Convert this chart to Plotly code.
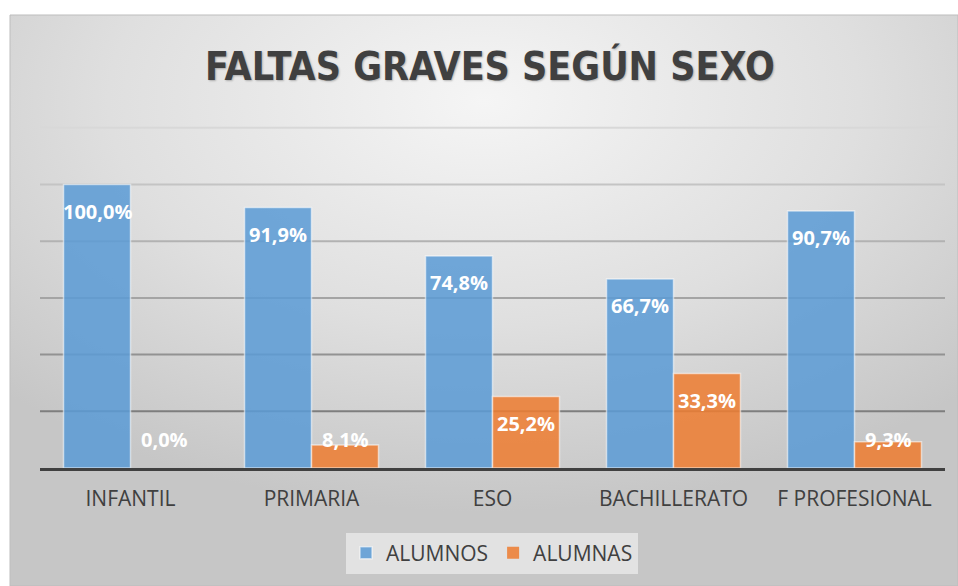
import base64
import plotly.graph_objects as go

categories = ["INFANTIL", "PRIMARIA", "ESO", "BACHILLERATO", "F PROFESIONAL"]
alumnos = [100.0, 91.9, 74.8, 66.7, 90.7]
alumnas = [0.0, 8.1, 25.2, 33.3, 9.3]
series_names = ["ALUMNOS", "ALUMNAS"]
title_text = "FALTAS GRAVES SEGÚN SEXO"
grid_vals = [20, 40, 60, 80, 100, 120]
grid_colors = ["#7e7e7e", "#929292", "#a4a4a4", "#b2b2b2", "#c4c4c4", "#d8d8d8"]

W, H = 958, 586
L, R, T, B = 40, 13, 125, 118
PW, PH = W - L - R, H - T - B

svg = f'''<svg xmlns="http://www.w3.org/2000/svg" width="948" height="571" viewBox="0 0 948 571" preserveAspectRatio="none">
<defs><radialGradient id="g" cx="0.5" cy="0.15" r="0.72" gradientUnits="objectBoundingBox">
<stop offset="0" stop-color="#f5f5f5"/><stop offset="0.55" stop-color="#dfdfdf"/><stop offset="1" stop-color="#c6c6c6"/>
</radialGradient></defs><rect width="948" height="571" fill="url(#g)"/></svg>'''
bg_uri = "data:image/svg+xml;base64," + base64.b64encode(svg.encode()).decode()

blue = "rgba(91,155,213,0.86)"
orange = "rgba(237,125,49,0.86)"

def line_w(vals):
    return [1.5 if v > 0 else 0 for v in vals]

fig = go.Figure()
fig.add_trace(go.Bar(name=series_names[0], x=categories, y=alumnos,
                     marker=dict(color=blue, line=dict(color="rgba(255,255,255,0.55)", width=line_w(alumnos)))))
fig.add_trace(go.Bar(name=series_names[1], x=categories, y=alumnas,
                     marker=dict(color=orange, line=dict(color="rgba(255,255,255,0.55)", width=line_w(alumnas)))))

def fmt(v):
    return f"{v:.1f}".replace(".", ",") + "%"

annotations = []
for vals, shift in ((alumnos, -33.5), (alumnas, 33.5)):
    for c, v in zip(categories, vals):
        annotations.append(dict(x=c, y=max(v - 9.5, 10), xref="x", yref="y", xshift=shift,
                                text=fmt(v), showarrow=False, yanchor="middle",
                                font=dict(family="Open Sans", size=20, color="white", weight="bold")))

x0 = (10 - L) / PW
y0 = (H - B - 15) / PH
shapes = [dict(type="rect", xref="paper", yref="paper", x0=x0, x1=x0 + 948 / PW, y0=y0 - 571 / PH, y1=y0,
               line=dict(color="#bdbdbd", width=1), fillcolor="rgba(0,0,0,0)", layer="below")]
for gv, gc in zip(grid_vals, grid_colors):
    shapes.append(dict(type="line", xref="paper", yref="y", x0=0, x1=1, y0=gv, y1=gv,
                       line=dict(color=gc, width=2), layer="below"))

fig.update_layout(
    width=W, height=H,
    margin=dict(l=L, r=R, t=T, b=B),
    paper_bgcolor="white", plot_bgcolor="rgba(0,0,0,0)",
    barmode="group", bargap=0.26, bargroupgap=0,
    title=dict(text=title_text, x=490 / W, y=1 - 66 / H, xref="container", yref="container",
               xanchor="center", yanchor="middle",
               font=dict(family="Liberation Sans Narrow, DejaVu Sans Condensed, Roboto", size=39,
                         color="#404040", weight="bold",
                         shadow="1px 1px 2px rgba(0,0,0,0.25)")),
    images=[dict(source=bg_uri, xref="paper", yref="paper", x=x0, y=y0, sizex=948 / PW, sizey=571 / PH,
                 xanchor="left", yanchor="top", sizing="stretch", layer="below")],
    shapes=shapes,
    xaxis=dict(showline=True, linecolor="#404040", linewidth=3, ticks="", showgrid=False,
               ticklabelstandoff=10,
               tickfont=dict(family="Open Sans", size=21, color="#404040")),
    yaxis=dict(range=[0, 121], tickvals=grid_vals, showticklabels=False, showgrid=False,
               zeroline=False, showline=False),
    legend=dict(orientation="h", xref="container", yref="container", x=492 / W, y=1 - 553 / H,
                xanchor="center", yanchor="middle", bgcolor="rgba(232,232,232,0.8)",
                font=dict(family="Open Sans", size=21, color="#404040"), itemwidth=30,
                traceorder="normal"),
    annotations=annotations,
)
fig.write_html("out.html", post_script="document.body.style.margin='0';",
               config={"displayModeBar": False})
